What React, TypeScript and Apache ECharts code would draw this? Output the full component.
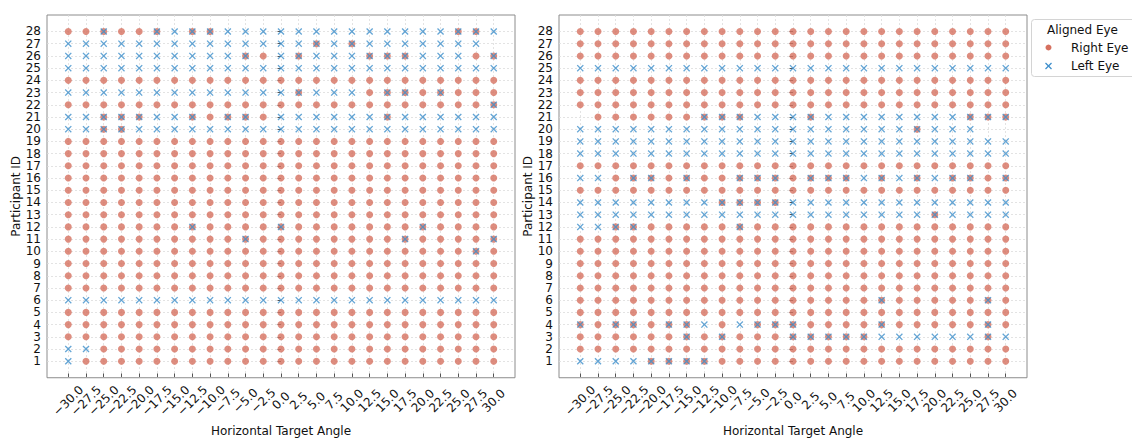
import React, { useEffect, useRef } from "react";
import * as echarts from "echarts";

// Horizontal target angles (x categories / tick labels)
const angles = [
  -30, -27.5, -25, -22.5, -20, -17.5, -15, -12.5, -10, -7.5, -5, -2.5, 0,
  2.5, 5, 7.5, 10, 12.5, 15, 17.5, 20, 22.5, 25, 27.5, 30,
];
// Participant IDs (y tick labels)
const participantIds = [
  1, 2, 3, 4, 5, 6, 7, 8, 9, 10, 11, 12, 13, 14, 15, 16, 17, 18, 19, 20, 21,
  22, 23, 24, 25, 26, 27, 28,
];

// Aligned eye per participant (rows: ID 28 down to ID 1) and angle (columns -30 .. 30)
// R = Right Eye, L = Left Eye, B = both, . = none
const leftPanelRows = [
  "RRBRRBLBBLLLLLLLLLLLLLBBL", // 28
  "LLLLLLLLLLLLLLBLBLLLLLLL.", // 27
  "LLLLLLLLLLBRLBLLLBBBLLLRB", // 26
  "LLLLLLLLLLLLLLLLLLLLLLLLL", // 25
  "RRRRRRRRRRRRRRRRRRRRRRRRR", // 24
  "LLLLLLLLLLLLLBLLLRBBRBRRR", // 23
  "RRRRRRRRRRRRRRRRRRRRRRRRB", // 22
  "LLBBBLLBRBBRLLLLLLBLLLLLL", // 21
  "LLBBLLLLLLLLLLLLLLLLLLLLL", // 20
  "RRRRRRRRRRRRRRRRRRRRRRRRR", // 19
  "RRRRRRRRRRRRRRRRRRRRRRRRR", // 18
  "RRRRRRRRRRRRRRRRRRRRRRRRR", // 17
  "RRRRRRRRRRRRRRRRRRRRRRRRR", // 16
  "RRRRRRRRRRRRRRRRRRRRRRRRR", // 15
  "RRRRRRRRRRRRRRRRRRRRRRRRR", // 14
  "RRRRRRRRRRRRRRRRRRRRRRRRR", // 13
  "RRRRRRRBRRRRBRRRRRRRBRRRR", // 12
  "RRRRRRRRRRBRRRRRRRRBRRRRB", // 11
  "RRRRRRRRRRRRRRRRRRRRRRRBR", // 10
  "RRRRRRRRRRRRRRRRRRRRRRRRR", // 9
  "RRRRRRRRRRRRRRRRRRRRRRRRR", // 8
  "RRRRRRRRRRRRRRRRRRRRRRRRR", // 7
  "LLLLLLLLLLLLLLLLLLLLLLLLL", // 6
  "RRRRRRRRRRRRRRRRRRRRRRRRR", // 5
  "RRRRRRRRRRRRRRRRRRRRRRRRR", // 4
  "RRRRRRRRRRRRRRRRRRRRRRRRR", // 3
  "LLRRRRRRRRRRRRRRRRRRRRRRR", // 2
  "LRRRRRRRRRRRRRRRRRRRRRRRR", // 1
];

const rightPanelRows = [
  "RRRRRRRRRRRRRRRRRRRRRRRRR", // 28
  "RRRRRRRRRRRRRRRRRRRRRRRRR", // 27
  "RRRRRRRRRRRRRRRRRRRRRRRRR", // 26
  "LLLLLLLLLLLLLLLLLLLLLLLLL", // 25
  "RRRRRRRRRRRRRRRRRRRRRRRRR", // 24
  "RRRRRRRRRRRRRRRRRRRRRRRRR", // 23
  "RRRRRRRRRRRRRRRRRRRRRRRRR", // 22
  ".RRRRRRBBBLLLBLLLLLLLLBBB", // 21
  "LLLLLLLLLLLLLLLLLLLBLLL..", // 20
  "LLLLLLLLLLLLLLLLLLLLLLLLL", // 19
  "LLLLLLLLLLLLLLLLLLLLLLLLL", // 18
  "RRRRRRRRRRRRRRRRRRRRRRRRR", // 17
  "LLRBBRBRRBBBRBBBLBLBLBBRB", // 16
  "RRRRRRRRRRRRRRRRRRRRRRRRR", // 15
  "LLLLLLLLBBBBLLLLLLLLLLLLL", // 14
  "LLLLLLLLLLLLLLLLLLLLBLLLL", // 13
  "LLBBRRRRRBRRRRRRRRRRRRRRR", // 12
  "RRRRRRRRRRRRRRRRRRRRRRRRR", // 11
  "RRRRRRRRRRRRRRRRRRRRRRRRR", // 10
  "RRRRRRRRRRRRRRRRRRRRRRRRR", // 9
  "RRRRRRRRRRRRRRRRRRRRRRRRR", // 8
  "RRRRRRRRRRRRRRRRRRRRRRRRR", // 7
  "RRRRRRRRRRRRRRRRRBRRRRRBR", // 6
  "RRRRRRRRRRRRRRRRRRRRRRRRR", // 5
  "BRBBRBBLRLBBBRRRRBRRRRRBR", // 4
  "RRRRRRBRBRRRBBBBBLLLLLLBL", // 3
  "RRRRRRRRRRRRRRRRRRRRRRRRR", // 2
  "LLLLBBBBRRRRRRRRRRRRRRRRR", // 1
];

const seriesNames = ["Right Eye", "Left Eye"];
const legendTitle = "Aligned Eye";
const xAxisTitle = "Horizontal Target Angle";
const yAxisTitle = "Participant ID";

const FONT = "DejaVu Sans";
const RED = "#d6705f";
const BLUE = "#3d8ecb";
const CROSS =
  "path://M0,1.3L1.3,0L5,3.7L8.7,0L10,1.3L6.3,5L10,8.7L8.7,10L5,6.3L1.3,10L0,8.7L3.7,5Z";

function cells(rows: string[], codes: string) {
  const out: number[][] = [];
  rows.forEach((row, r) => {
    const id = participantIds[participantIds.length - 1 - r];
    for (let c = 0; c < angles.length; c++) {
      if (codes.indexOf(row[c]) >= 0) out.push([angles[c], id]);
    }
  });
  return out;
}

const fmtAngle = (v: number) =>
  v < 0 ? "\u2212" + Math.abs(v).toFixed(1) : v.toFixed(1);

export default function App() {
  const ref = useRef<HTMLDivElement>(null);

  useEffect(() => {
    if (!ref.current) return;
    const chart = echarts.init(ref.current, null, { renderer: "svg" });

    const gridLefts = [47, 559];
    const panels = [leftPanelRows, rightPanelRows];

    const grids = gridLefts.map((l) => ({
      left: l,
      top: 15,
      width: 468,
      height: 375,
      show: true,
      borderColor: "#8c8c8c",
      borderWidth: 1,
      backgroundColor: "transparent",
    }));

    const splitLineStyle = {
      show: true,
      lineStyle: { color: "#dcdcdc", width: 0.8, type: [2, 2] as any },
    };

    const xAxes = gridLefts.map((_, i) => ({
      gridIndex: i,
      type: "value",
      min: -33,
      max: 33,
      name: xAxisTitle,
      nameLocation: "middle",
      nameGap: 41,
      nameTextStyle: { fontFamily: FONT, fontSize: 12, color: "#111" },
      axisLine: { show: false },
      axisTick: {
        show: true,
        length: 3.5,
        customValues: angles,
        lineStyle: { color: "#555" },
      },
      axisLabel: {
        customValues: angles,
        showMinLabel: true,
        showMaxLabel: true,
        rotate: 45,
        align: "center",
        verticalAlign: "middle",
        margin: 23,
        fontFamily: FONT,
        fontSize: 12,
        color: "#111",
        formatter: (v: number) => fmtAngle(v),
      },
      splitLine: splitLineStyle,
    }));

    const yAxes = gridLefts.map((_, i) => ({
      gridIndex: i,
      type: "value",
      min: -0.35,
      max: 29.35,
      name: yAxisTitle,
      nameLocation: "middle",
      nameGap: 21,
      nameRotate: 90,
      nameTextStyle: { fontFamily: FONT, fontSize: 12, color: "#111" },
      axisLine: { show: false },
      axisTick: {
        show: true,
        length: 3.5,
        customValues: participantIds,
        lineStyle: { color: "#555" },
      },
      axisLabel: {
        customValues: participantIds,
        showMinLabel: true,
        showMaxLabel: true,
        margin: 6,
        fontFamily: FONT,
        fontSize: 12,
        color: "#111",
        formatter: (v: number) => String(v),
      },
      splitLine: splitLineStyle,
    }));

    const series: any[] = [];
    panels.forEach((rows, i) => {
      series.push({
        type: "scatter",
        name: seriesNames[0],
        xAxisIndex: i,
        yAxisIndex: i,
        symbol: "circle",
        symbolSize: 7,
        itemStyle: { color: RED },
        data: cells(rows, "RB"),
        z: 2,
      });
      series.push({
        type: "scatter",
        name: seriesNames[1],
        xAxisIndex: i,
        yAxisIndex: i,
        symbol: CROSS,
        symbolSize: 7,
        itemStyle: { color: BLUE },
        data: cells(rows, "LB"),
        z: 3,
      });
    });

    chart.setOption({
      animation: false,
      backgroundColor: "#fff",
      textStyle: { fontFamily: FONT },
      grid: grids,
      xAxis: xAxes,
      yAxis: yAxes,
      series,
      graphic: [
        {
          type: "rect",
          shape: { x: 1031.5, y: 19.5, width: 130, height: 57, r: 3 },
          style: { fill: "#fff", stroke: "#d4d4d4", lineWidth: 1 },
          z: 10,
        },
        {
          type: "text",
          x: 1047,
          y: 30,
          style: {
            text: legendTitle,
            fontFamily: FONT,
            fontSize: 12,
            fill: "#111",
            verticalAlign: "middle",
          },
          z: 11,
        },
        {
          type: "circle",
          shape: { cx: 1048.5, cy: 47.5, r: 3 },
          style: { fill: RED },
          z: 11,
        },
        {
          type: "text",
          x: 1071,
          y: 47.5,
          style: {
            text: seriesNames[0],
            fontFamily: FONT,
            fontSize: 12,
            fill: "#111",
            verticalAlign: "middle",
          },
          z: 11,
        },
        {
          type: "polyline",
          shape: { points: [[1045.5, 63], [1051.5, 69]] },
          style: { stroke: BLUE, lineWidth: 1.2 },
          z: 11,
        },
        {
          type: "polyline",
          shape: { points: [[1051.5, 63], [1045.5, 69]] },
          style: { stroke: BLUE, lineWidth: 1.2 },
          z: 11,
        },
        {
          type: "text",
          x: 1071,
          y: 66,
          style: {
            text: seriesNames[1],
            fontFamily: FONT,
            fontSize: 12,
            fill: "#111",
            verticalAlign: "middle",
          },
          z: 11,
        },
      ],
    });

    return () => chart.dispose();
  }, []);

  return (
    <div
      ref={ref}
      style={{ position: "absolute", left: 0, top: 0, width: 1132, height: 442 }}
    />
  );
}
